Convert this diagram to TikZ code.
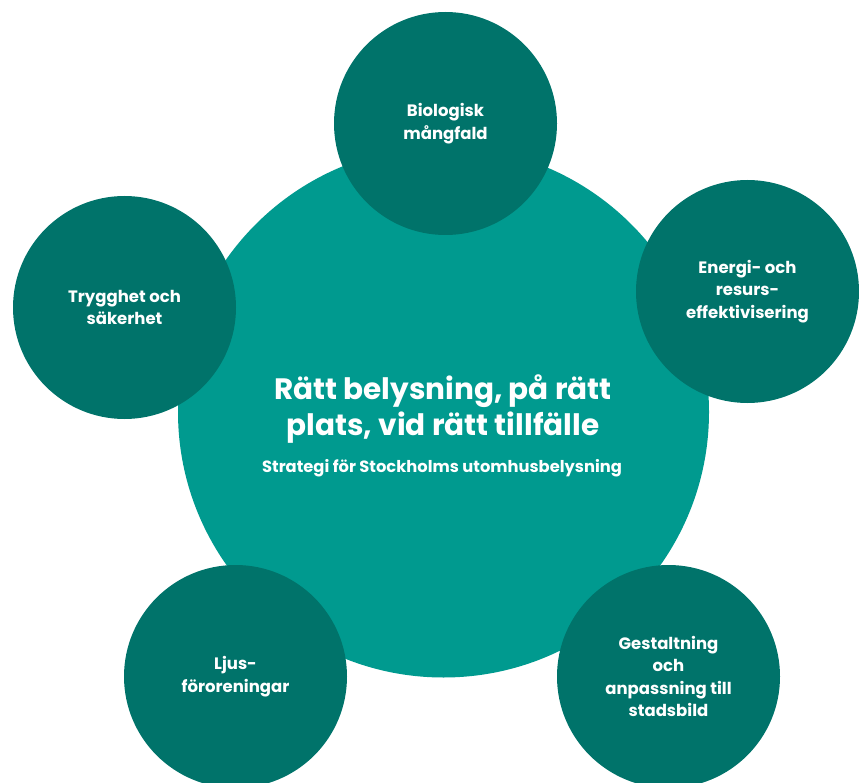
\documentclass[tikz,border=0pt]{standalone}
\usepackage{fontspec}
\setmainfont{Poppins}
\definecolor{hubteal}{HTML}{009A8F}
\definecolor{topicteal}{HTML}{00736A}
\begin{document}
\begin{tikzpicture}[x=1pt,y=-1pt,
  hub/.style={circle, fill=hubteal, minimum size=531pt, inner sep=0pt},
  topic/.style={circle, fill=topicteal, minimum size=223pt, inner sep=0pt,
    text=white, align=center, font=\bfseries\fontsize{16.5}{22.5}\selectfont},
  headline/.style={anchor=base, inner sep=0pt, text=white,
    font=\bfseries\fontsize{29.5}{36}\selectfont},
  subline/.style={anchor=base, inner sep=0pt, text=white,
    font=\bfseries\fontsize{16.3}{20}\selectfont}]
\useasboundingbox (0,0) rectangle (859,783);
\clip (0,0) rectangle (859,783);
\node[hub] (hub) at (443.5,412) {};
\node[topic] (bio) at (445.5,123.5) {Biologisk\\mångfald};
\node[topic] (trygg) at (124.5,307.5) {Trygghet och\\säkerhet};
\node[topic] (energi) at (747.5,291.5) {Energi- och\\resurs-\\effektivisering};
\node[topic] (ljus) at (235.5,676.5) {Ljus-\\föroreningar};
\node[topic] (gestalt) at (668.5,676.5) {Gestaltning\\och\\anpassning till\\stadsbild};
\node[headline] (t1) at (443,399) {Rätt belysning, på rätt};
\node[headline] (t2) at (443,435) {plats, vid rätt tillfälle};
\node[subline] (sub) at (442,472) {Strategi för Stockholms utomhusbelysning};
\end{tikzpicture}
\end{document}
